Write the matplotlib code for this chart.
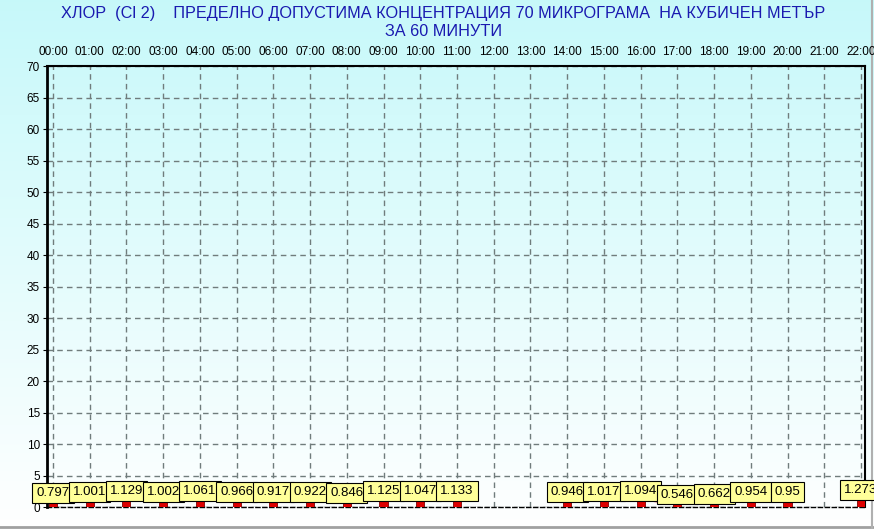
import matplotlib
matplotlib.use("Agg")
import matplotlib.pyplot as plt
import numpy as np

hours = [0, 1, 2, 3, 4, 5, 6, 7, 8, 9, 10, 11, 14, 15, 16, 17, 18, 19, 20, 22]
values = [0.797, 1.001, 1.129, 1.002, 1.061, 0.966, 0.917, 0.922, 0.846, 1.125,
          1.047, 1.133, 0.946, 1.017, 1.094, 0.546, 0.662, 0.954, 0.95, 1.273]
hour_labels = ["%02d:00" % h for h in range(23)]
title = ("ХЛОР  (Cl 2)    ПРЕДЕЛНО ДОПУСТИМА КОНЦЕНТРАЦИЯ 70 МИКРОГРАМА  НА КУБИЧЕН МЕТЪР\n"
         "ЗА 60 МИНУТИ")

plt.rcParams['font.family'] = ['Liberation Sans', 'DejaVu Sans']

fig = plt.figure(figsize=(8.74, 5.29), dpi=100)

# gradient background over whole figure
bg = fig.add_axes([0, 0, 1, 1], zorder=-10)
grad = np.linspace(0, 1, 256).reshape(-1, 1)
top = np.array([0.78, 0.975, 0.98])
bot = np.array([1.0, 1.0, 1.0])
img = top[None, None, :] * (1 - grad[:, :, None]) + bot[None, None, :] * grad[:, :, None]
bg.imshow(img, aspect='auto', extent=[0, 1, 0, 1], origin='upper')
bg.plot([0, 1], [0.004, 0.004], color='#a0a0a0', lw=2)
bg.plot([0.998, 0.998], [0, 1], color='#b0b0b0', lw=1.5)
bg.set_xlim(0, 1)
bg.set_ylim(0, 1)
bg.axis('off')

ax = fig.add_axes([47/874, 1-507/529, (865-47)/874, (507-66)/529])
ax.patch.set_alpha(0)

ax.set_xlim(-0.163, 22.11)
ax.set_ylim(0, 70)

# thin connecting line between consecutive hours
seg_x, seg_y = [], []
for i in range(len(hours)):
  if i > 0 and hours[i] - hours[i-1] > 1:
    ax.plot(seg_x, seg_y, color='#dd0000', lw=1, zorder=2)
    seg_x, seg_y = [], []
  seg_x.append(hours[i])
  seg_y.append(values[i])
ax.plot(seg_x, seg_y, color='#dd0000', lw=1, zorder=2)

ax.bar(hours, values, width=0.22, color='#dd0000', edgecolor='#800000', lw=0.6, zorder=3)

for h, v in zip(hours, values):
  ax.annotate("%g" % v, xy=(h, v), xytext=(0, 2.2), textcoords='offset points',
              ha='center', va='bottom', fontsize=9.5, zorder=5,
              bbox=dict(boxstyle='square,pad=0.3', fc='#ffff99', ec='black', lw=0.8))

ax.set_yticks(range(0, 71, 5))
ax.set_xticks(range(23))
ax.set_xticklabels(hour_labels)
ax.xaxis.tick_top()
ax.tick_params(axis='x', length=0, pad=6, labelsize=8.5)
ax.tick_params(axis='y', length=3, pad=2, labelsize=8.5)
ax.grid(True, color='#707c7c', ls=(0, (4, 3)), lw=1)
ax.set_axisbelow(True)

ax.spines['left'].set_linewidth(2)
ax.spines['right'].set_linewidth(1.5)
ax.spines['top'].set_linewidth(1.5)
ax.spines['top'].set_linestyle((0, (5, 1)))
ax.spines['bottom'].set_linewidth(1)
ax.spines['bottom'].set_linestyle((0, (3, 2)))

fig.text(0.507, 0.988, title, ha='center', va='top', color='#1a1ab0',
         fontsize=11.7, linespacing=1.2)

fig.savefig("out.png", dpi=100)
